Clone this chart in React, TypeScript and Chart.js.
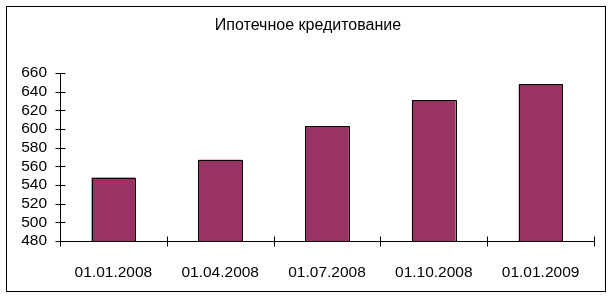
import React, { useEffect, useRef } from "react";
import { Chart, registerables } from "chart.js";

Chart.register(...registerables);

const title = "Ипотечное кредитование";
const categories = ["01.01.2008", "01.04.2008", "01.07.2008", "01.10.2008", "01.01.2009"];
const values = [548, 567, 603, 631, 648];
const yMin = 480;
const yMax = 660;
const yStep = 20;

const FONT = "'Liberation Sans', Arial, sans-serif";

const framePlugin = {
  id: "frame",
  afterDatasetsDraw(chart: any) {
    const { ctx, chartArea, scales } = chart;
    const y = scales.y;
    ctx.save();
    ctx.strokeStyle = "#000";
    ctx.lineWidth = 1;
    // bar outlines, snapped to pixels
    const meta = chart.getDatasetMeta(0);
    ctx.beginPath();
    meta.data.forEach((bar: any) => {
      const p = bar.getProps(["x", "y", "base", "width"], true);
      const l = Math.round(p.x - p.width / 2) + 0.5;
      const r = Math.round(p.x + p.width / 2) + 0.5;
      const t = Math.round(p.y) + 0.5;
      const b = Math.round(Math.min(p.base, chartArea.bottom)) + 0.5;
      ctx.rect(l, t, r - l, b - t);
    });
    ctx.stroke();
    // outer frame
    ctx.strokeRect(6.5, 6.5, 599, 285);
    // axes
    const left = Math.round(chartArea.left) + 0.5;
    const bottom = Math.round(chartArea.bottom) + 0.5;
    ctx.beginPath();
    ctx.moveTo(left, Math.round(y.getPixelForValue(yMax)) + 0.5);
    ctx.lineTo(left, bottom);
    ctx.lineTo(Math.round(chartArea.right) + 0.5, bottom);
    for (let v = yMin; v <= yMax; v += yStep) {
      const py = Math.round(y.getPixelForValue(v)) + 0.5;
      ctx.moveTo(left - 5, py);
      ctx.lineTo(left + 5, py);
    }
    const n = categories.length;
    const w = (chartArea.right - chartArea.left) / n;
    for (let i = 0; i <= n; i++) {
      const px = Math.round(chartArea.left + i * w) + 0.5;
      ctx.moveTo(px, bottom - 5);
      ctx.lineTo(px, bottom + 5);
    }
    ctx.stroke();
    // title
    ctx.fillStyle = "#000";
    ctx.font = `16px ${FONT}`;
    ctx.textAlign = "center";
    ctx.textBaseline = "middle";
    ctx.fillText(title, 308, 26);
    ctx.restore();
  },
};

export default function App() {
  const ref = useRef<HTMLCanvasElement | null>(null);
  useEffect(() => {
    if (!ref.current) return;
    const chart = new Chart(ref.current, {
      type: "bar",
      data: {
        labels: categories,
        datasets: [
          {
            data: values,
            backgroundColor: "#993366",
            borderWidth: 0,
            barPercentage: 0.41,
            categoryPercentage: 1,
          },
        ],
      },
      options: {
        responsive: false,
        animation: false,
        devicePixelRatio: 1,
        layout: { padding: { left: 0, top: 73, right: 20, bottom: 0 } },
        plugins: {
          legend: { display: false },
          title: { display: false },
          tooltip: { enabled: false },
        },
        scales: {
          x: {
            offset: true,
            grid: { display: false },
            border: { display: false },
            ticks: {
              color: "#000",
              font: { family: FONT, size: 15.5 },
              padding: 14,
              maxRotation: 0,
              autoSkip: false,
            },
            afterFit(scale: any) {
              scale.height = 299 - 241;
            },
          },
          y: {
            min: yMin,
            max: yMax,
            grid: { display: false },
            border: { display: false },
            ticks: {
              stepSize: yStep,
              autoSkip: false,
              color: "#000",
              font: { family: FONT, size: 15.5 },
              padding: 5,
            },
            afterFit(scale: any) {
              scale.width = 60;
            },
          },
        },
      },
      plugins: [framePlugin],
    });
    return () => chart.destroy();
  }, []);
  return (
    <div style={{ position: "absolute", left: 0, top: 0, width: 614, height: 299, background: "#fff" }}>
      <canvas ref={ref} width={614} height={299} style={{ display: "block" }} />
    </div>
  );
}
